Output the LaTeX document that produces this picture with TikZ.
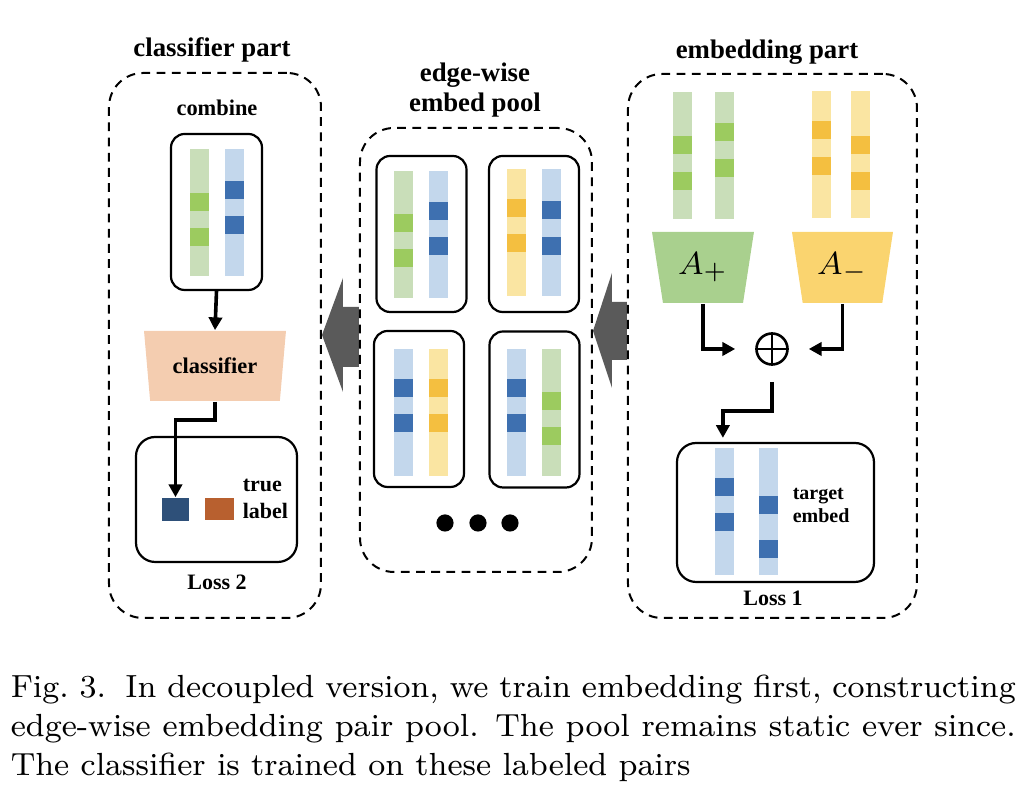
\documentclass[tikz,border=0pt]{standalone}
\usepackage{fontspec}
\newfontfamily\figfont{Liberation Serif}
\usepackage{tikz}
\usetikzlibrary{shapes.geometric,arrows.meta,calc,backgrounds}

\definecolor{lgreen}{HTML}{C9DEB9}
\definecolor{dgreen}{HTML}{9CCB5F}
\definecolor{lblue}{HTML}{C3D7EC}
\definecolor{dblue}{HTML}{3E70B0}
\definecolor{lyellow}{HTML}{FAE5A2}
\definecolor{dyellow}{HTML}{F4BF40}
\definecolor{trapgreen}{HTML}{A9D08E}
\definecolor{trapyellow}{HTML}{FAD46F}
\definecolor{salmon}{HTML}{F4CDB0}
\definecolor{navy}{HTML}{2E5079}
\definecolor{rust}{HTML}{B8602F}
\definecolor{arrowgray}{HTML}{5A5A5A}

% one embedding bar: left x, top y, light colour, dark colour, two block offsets
\newcommand{\embedbar}[6]{%
  \fill[#3] (#1,#2) rectangle ++(19,127);
  \fill[#4] (#1,#2+#5) rectangle ++(19,18);
  \fill[#4] (#1,#2+#6) rectangle ++(19,18);}

\tikzset{
  panel/.style={draw, dash pattern=on 2.2pt off 1.6pt, line width=0.5pt,
    rounded corners=8.5pt, inner sep=0pt},
  pairbox/.style={draw, line width=0.55pt, rounded corners=3.4pt,
    minimum width=22.5pt, minimum height=39pt, inner sep=0pt},
  lossbox/.style={draw, line width=0.55pt, rounded corners=4.8pt, inner sep=0pt},
  trap/.style={trapezium, shape border rotate=180, trapezium stretches=true,
    inner sep=0pt, trapezium left angle=77, trapezium right angle=77},
  flow/.style={line width=0.9pt, -{Triangle[length=3.2pt,width=3.3pt]}},
  heading/.style={font=\figfont\fontsize{6.7}{7.5}\selectfont\bfseries, align=center},
  tag/.style={font=\figfont\fontsize{5.5}{6.9}\selectfont\bfseries, align=left, inner sep=0pt},
  capline/.style={font=\fontsize{8}{10}\selectfont, inner sep=0pt, anchor=base west},
}

\begin{document}
\begin{tikzpicture}[x=0.25pt, y=-0.25pt]
\useasboundingbox (0,0) rectangle (1033,799);

% panels
\node[panel, minimum width=53pt, minimum height=136.25pt] (clsp) at (215,345.5) {};
\node[panel, minimum width=58pt, minimum height=111pt] (pool) at (476,350) {};
\node[panel, minimum width=72.25pt, minimum height=136pt] (embp) at (772.5,346) {};

\node[heading] (clsh) at (212,50) {classifier part};
\node[heading] (poolh) at (475,90) {edge-wise\\embed pool};
\node[heading] (embh) at (767,52) {embedding part};

% big gray arrows
\begin{scope}[on background layer]
  \path (clsp.east |- 0,335) coordinate (lt) (pool.west |- 0,335) coordinate (ls);
  \fill[arrowgray] (lt) -- ($(lt)+(21,-57)$) -- ($(lt)+(21,-28)$) -- ($(ls)+(0,-28)$)
    -- ($(ls)+(0,32)$) -- ($(lt)+(21,32)$) -- ($(lt)+(21,57)$) -- cycle;
  \path (pool.east |- 0,331) coordinate (rt) (embp.west |- 0,331) coordinate (rs);
  \fill[arrowgray] (rt) -- ($(rt)+(19,-58)$) -- ($(rt)+(19,-29)$) -- ($(rs)+(0,-29)$)
    -- ($(rs)+(0,29)$) -- ($(rt)+(19,29)$) -- ($(rt)+(19,57)$) -- cycle;
\end{scope}

% classifier part
\node[tag, font=\figfont\fontsize{5.6}{7}\selectfont\bfseries] (combt) at (217,108) {combine};
\node[pairbox, minimum width=22.75pt] (comb) at (216.5,212) {};
\embedbar{190}{149}{lgreen}{dgreen}{44}{79}
\embedbar{225}{149}{lblue}{dblue}{32}{67}
\node[trap, fill=salmon, minimum width=35.5pt, minimum height=17.5pt,
  trapezium left angle=76, trapezium right angle=76,
  font=\figfont\fontsize{5.6}{7}\selectfont\bfseries] (clf) at (215,366) {classifier};
\node[lossbox, minimum width=40.25pt, minimum height=31.25pt] (losstwo) at (216.5,499.5) {};
\node[fill=navy, minimum width=6.75pt, minimum height=5.75pt, inner sep=0pt] (pred) at (175.5,509.5) {};
\node[fill=rust, minimum width=7.25pt, minimum height=5.5pt, inner sep=0pt] (truth) at (219.5,509) {};
\node[tag, anchor=west] (truet) at (242,499) {true\\label};
\node[tag] (losstwot) at (217,582) {Loss 2};
\draw[flow] (comb.south) -- (clf.north);
\draw[flow] (clf.south) -- ++(0,18) -| (pred.north);

% embed pool
\node[pairbox] (ptl) at (421.5,234) {};
\node[pairbox] (ptr) at (534,234) {};
\node[pairbox] (pbl) at (419,409) {};
\node[pairbox] (pbr) at (534.5,409.5) {};
\embedbar{394}{171}{lgreen}{dgreen}{43}{78}
\embedbar{429}{171}{lblue}{dblue}{31}{66}
\embedbar{507}{169}{lyellow}{dyellow}{30}{65}
\embedbar{542}{169}{lblue}{dblue}{32}{68}
\embedbar{394}{349}{lblue}{dblue}{30}{65}
\embedbar{429}{349}{lyellow}{dyellow}{30}{65}
\embedbar{507}{349}{lblue}{dblue}{30}{65}
\embedbar{542}{349}{lgreen}{dgreen}{43}{78}
\foreach \i/\x in {1/445,2/478,3/510}
  \node[circle, fill=black, minimum size=4.3pt, inner sep=0pt] (dot\i) at (\x,523) {};

% embedding part
\embedbar{673}{92}{lgreen}{dgreen}{44}{80}
\embedbar{715}{92}{lgreen}{dgreen}{31}{67}
\embedbar{812}{91}{lyellow}{dyellow}{30}{66}
\embedbar{851}{91}{lyellow}{dyellow}{45}{81}
\node[trap, fill=trapgreen, minimum width=25.5pt, minimum height=17.75pt,
  font=\fontsize{8}{9}\selectfont] (aplus) at (703,267.5) {$A_+$};
\node[trap, fill=trapyellow, minimum width=25.25pt, minimum height=17.75pt,
  font=\fontsize{8}{9}\selectfont] (aminus) at (842.5,267.5) {$A_-$};
\node[circle, draw, line width=0.65pt, minimum size=7.75pt, inner sep=0pt] (oplus) at (772,349) {};
\draw[line width=0.65pt] (oplus.north) -- (oplus.south) (oplus.west) -- (oplus.east);
\node[lossbox, minimum width=49.25pt, minimum height=34.75pt] (lossone) at (775.5,512.5) {};
\embedbar{715}{448}{lblue}{dblue}{30}{65}
\embedbar{759}{448}{lblue}{dblue}{48}{92}
\node[tag, anchor=west, font=\figfont\fontsize{5}{5.75}\selectfont\bfseries] (targett) at (792,505) {target\\embed};
\node[tag] (lossonet) at (773,598) {Loss 1};
\draw[flow, shorten >=5pt] (aplus.south) |- (oplus.west);
\draw[flow, shorten >=5pt] (aminus.south) |- (oplus.east);
\draw[flow, shorten <=4pt, shorten >=1pt] (oplus.south) -- ++(0,45.5)
  -| ($(lossone.north west)+(47,0)$);

% caption
\node[capline] (capa) at (10,698) {\makebox[251.25pt][s]{Fig.~3.\hspace{0.6em}In decoupled version, we train embedding first, constructing}};
\node[capline] (capb) at (10,737) {\makebox[251.25pt][s]{edge-wise embedding pair pool. The pool remains static ever since.}};
\node[capline] (capc) at (10,776) {The classifier is trained on these labeled pairs};
\end{tikzpicture}
\end{document}
